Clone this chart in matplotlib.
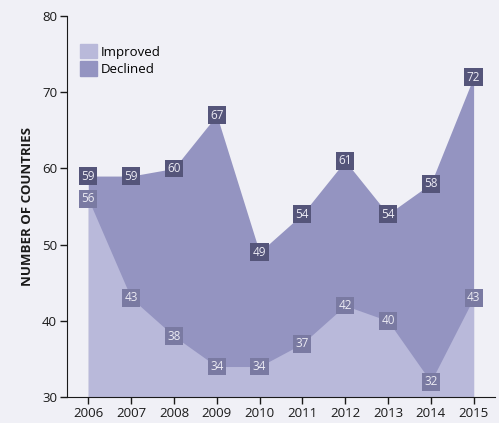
import matplotlib.pyplot as plt
from matplotlib.patches import Patch

years = [2006, 2007, 2008, 2009, 2010, 2011, 2012, 2013, 2014, 2015]
improved = [56, 43, 38, 34, 34, 37, 42, 40, 32, 43]
declined = [59, 59, 60, 67, 49, 54, 61, 54, 58, 72]
y_ticks = [30, 40, 50, 60, 70, 80]

bg = "#f0f0f6"
c_improved = "#b9b9da"
c_declined = "#9494c1"
box_improved = "#7a7aa2"
box_declined = "#55557a"
label_text = "#ecebf4"

plt.rcParams["font.family"] = ["Open Sans", "DejaVu Sans"]

fig = plt.figure(figsize=(4.99, 4.23), dpi=100)
fig.patch.set_facecolor(bg)
ax = fig.add_axes([0.134, 0.0615, 0.858, 0.9005])
ax.set_facecolor(bg)

ax.fill_between(years, 30, declined, color=c_declined, linewidth=0)
ax.fill_between(years, 30, improved, color=c_improved, linewidth=0)

for x, v in zip(years, declined):
    ax.text(x, v, str(v), ha="center", va="center", fontsize=8.5, color=label_text,
            bbox=dict(boxstyle="square,pad=0.2", fc=box_declined, ec="none"))
for x, v in zip(years, improved):
    ax.text(x, v, str(v), ha="center", va="center", fontsize=8.5, color=label_text,
            bbox=dict(boxstyle="square,pad=0.2", fc=box_improved, ec="none"))

ax.set_xlim(2005.5, 2015.5)
ax.set_ylim(30, 80)
ax.set_xticks(years)
ax.set_yticks(y_ticks)
ax.tick_params(labelsize=9.5, colors="#1a1a1a", length=5, width=1, pad=2)
ax.spines["top"].set_visible(False)
ax.spines["right"].set_visible(False)
ax.spines["left"].set_color("#1a1a1a")
ax.spines["bottom"].set_color("#1a1a1a")
ax.set_ylabel("NUMBER OF COUNTRIES", fontsize=9.5, fontweight="bold", color="#1a1a1a", labelpad=6)

handles = [Patch(color=c_improved, label="Improved"), Patch(color=c_declined, label="Declined")]
ax.legend(handles=handles, loc="upper left", bbox_to_anchor=(0.03, 0.9265), frameon=False,
          fontsize=9.5, handlelength=1.3, handleheight=1.3, handletextpad=0.3,
          labelspacing=0.2, borderaxespad=0, borderpad=0)

fig.savefig("out.png", dpi=100, facecolor=bg)
